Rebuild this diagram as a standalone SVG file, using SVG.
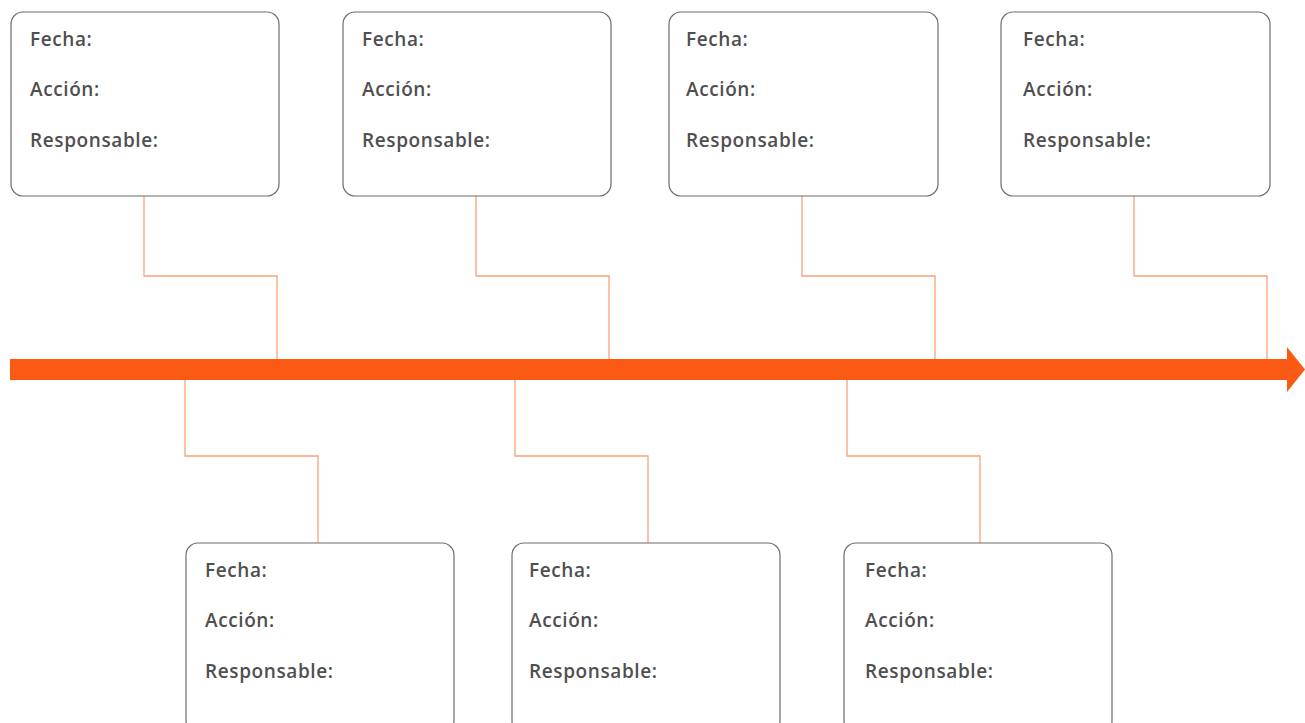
<svg xmlns="http://www.w3.org/2000/svg" width="1305" height="723" viewBox="0 0 1305 723">
<style>
.box{fill:#fff;stroke:#6d6d6d;stroke-width:1.2}
.lbl{font-family:"Open Sans",Lato,sans-serif;font-weight:600;font-size:19px;letter-spacing:0.6px;fill:#4f4f4f}
.conn{fill:none;stroke:#f9a273;stroke-width:1.3}
</style>
<rect width="1305" height="723" fill="#fff"/>
<g id="connectors">
<polyline class="conn" points="144,196 144,276 277,276 277,360"/>
<polyline class="conn" points="476,196 476,276 609,276 609,360"/>
<polyline class="conn" points="802,196 802,276 935,276 935,360"/>
<polyline class="conn" points="1134,196 1134,276 1267,276 1267,360"/>
<polyline class="conn" points="185,379 185,456 318,456 318,543"/>
<polyline class="conn" points="515,379 515,456 648,456 648,543"/>
<polyline class="conn" points="847,379 847,456 980,456 980,543"/>
</g>
<g id="timeline">
<polygon points="10,359 1287,359 1287,347 1305,369.5 1287,392 1287,380 10,380" fill="#fa5a13"/>
</g>
<g id="box1"><rect class="box" x="11" y="12" width="268" height="184" rx="12"/>
<text class="lbl" x="30" y="45.5">Fecha:</text><text class="lbl" x="30" y="96">Acción:</text><text class="lbl" x="30" y="146.5">Responsable:</text></g>
<g id="box2"><rect class="box" x="343" y="12" width="268" height="184" rx="12"/>
<text class="lbl" x="362" y="45.5">Fecha:</text><text class="lbl" x="362" y="96">Acción:</text><text class="lbl" x="362" y="146.5">Responsable:</text></g>
<g id="box3"><rect class="box" x="669" y="12" width="269" height="184" rx="12"/>
<text class="lbl" x="686" y="45.5">Fecha:</text><text class="lbl" x="686" y="96">Acción:</text><text class="lbl" x="686" y="146.5">Responsable:</text></g>
<g id="box4"><rect class="box" x="1001" y="12" width="269" height="184" rx="12"/>
<text class="lbl" x="1023" y="45.5">Fecha:</text><text class="lbl" x="1023" y="96">Acción:</text><text class="lbl" x="1023" y="146.5">Responsable:</text></g>
<g id="box5"><rect class="box" x="186" y="543" width="268" height="190" rx="12"/>
<text class="lbl" x="205" y="576.5">Fecha:</text><text class="lbl" x="205" y="627">Acción:</text><text class="lbl" x="205" y="677.5">Responsable:</text></g>
<g id="box6"><rect class="box" x="512" y="543" width="268" height="190" rx="12"/>
<text class="lbl" x="529" y="576.5">Fecha:</text><text class="lbl" x="529" y="627">Acción:</text><text class="lbl" x="529" y="677.5">Responsable:</text></g>
<g id="box7"><rect class="box" x="844" y="543" width="268" height="190" rx="12"/>
<text class="lbl" x="865" y="576.5">Fecha:</text><text class="lbl" x="865" y="627">Acción:</text><text class="lbl" x="865" y="677.5">Responsable:</text></g>
</svg>
